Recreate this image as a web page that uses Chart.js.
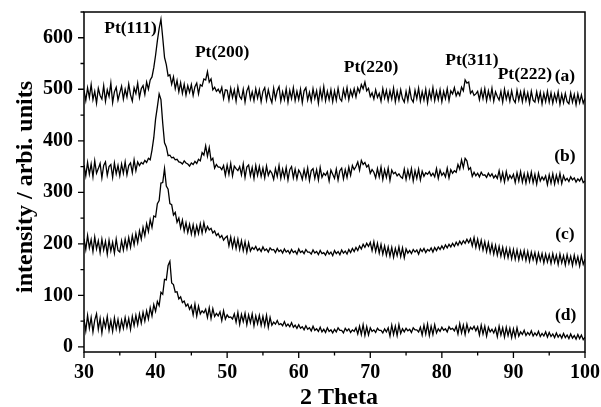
<!DOCTYPE html>
<html>
<head>
<meta charset="utf-8">
<script src="https://cdn.jsdelivr.net/npm/chart.js@4.4.1/dist/chart.umd.min.js"></script>
<style>
  body { margin: 0; background: #fff; }
  #wrap { width: 601px; height: 407px; }
</style>
</head>
<body>
<div id="wrap"><canvas id="chart-1" width="601" height="407"></canvas></div>
<script>
// 2 Theta from 30 to 100, one reading every 0.25 deg
const thetaStart = 30;
const thetaStep = 0.25;

const seriesA = [
  498,478,503,484,509,480,496,473,502,488,481,507,477,499,486,512,474,495,504,479,
  493,506,481,500,485,510,489,477,503,492,512,484,501,507,490,514,500,518,524,542,
  566,594,618,636,600,562,548,526,528,510,524,501,517,495,513,492,510,489,507,494,
  509,488,505,512,491,509,506,520,518,534,514,520,499,504,496,500,493,504,482,499,
  498,479,502,484,499,477,504,486,481,500,475,497,505,481,495,478,501,483,499,476,
  496,503,479,499,484,474,502,481,497,505,477,495,480,501,475,498,482,503,478,496,
  480,500,474,497,503,479,494,477,501,482,497,473,500,481,505,478,496,480,499,476,
  497,479,502,482,477,500,484,503,480,498,486,501,485,503,494,509,501,514,497,502,
  486,493,481,499,484,492,477,501,483,498,478,497,481,502,476,496,479,499,482,475,
  496,478,501,481,475,498,482,502,477,495,479,500,474,497,481,503,478,496,480,499,
  476,496,482,501,478,497,491,503,487,495,488,504,497,518,512,514,492,497,488,491,
  496,480,499,482,501,478,497,481,502,477,495,486,479,496,475,500,481,495,477,497,
  480,474,498,479,495,476,497,478,493,473,496,479,475,495,477,494,472,492,476,496,
  475,493,473,491,477,495,471,490,474,492,476,472,493,475,490,470,491,474,489,473,
  482
];
const seriesB = [
  353,332,358,335,355,330,361,337,346,356,328,352,359,333,350,354,329,357,336,352,
  332,355,337,359,334,352,357,338,363,342,359,352,358,355,362,358,366,363,382,406,
  442,466,491,480,434,396,388,371,372,367,368,363,364,359,358,355,361,357,355,351,
  357,354,360,356,364,361,377,372,390,370,387,362,366,347,354,349,349,344,352,333,
  353,335,356,332,351,346,342,350,334,355,329,349,353,332,348,327,352,333,350,331,
  347,328,351,333,342,337,325,346,331,352,327,345,329,348,324,344,350,328,345,326,
  343,337,325,344,328,347,323,342,346,327,344,324,348,329,337,333,340,322,343,335,
  327,345,324,342,347,326,344,329,349,333,352,344,350,359,343,362,354,358,349,353,
  337,344,339,328,346,330,349,325,344,329,347,323,343,336,339,332,336,330,327,345,
  325,343,328,346,322,342,327,345,324,341,331,338,335,340,332,337,330,346,327,343,
  333,338,330,347,328,344,337,342,339,354,345,363,348,366,361,344,348,331,339,332,
  337,330,339,333,334,329,337,331,336,328,333,327,342,323,338,320,340,324,333,327,
  335,319,338,322,340,320,336,318,337,321,339,319,335,316,337,322,330,324,332,315,
  334,318,336,316,333,319,337,317,332,323,327,321,330,324,328,320,326,322,329,319,
  322
];
const seriesC = [
  210,189,216,192,208,185,213,190,206,183,209,188,205,180,207,186,203,182,209,187,
  184,206,188,209,191,212,193,216,198,220,202,225,209,232,216,239,224,247,232,254,
  252,278,284,318,319,346,312,306,278,276,256,261,242,250,231,246,225,241,222,238,
  219,237,217,235,220,239,221,241,224,234,227,230,221,225,216,220,212,216,207,212,
  215,196,213,193,210,191,209,189,206,187,204,184,202,186,193,189,195,187,191,185,
  194,187,190,184,192,188,189,183,191,185,188,182,190,184,187,181,189,183,186,180,
  190,183,186,181,189,184,184,180,188,182,185,179,187,181,183,178,186,180,184,177,
  187,181,185,179,188,182,186,180,189,183,191,185,193,187,196,190,199,193,201,195,
  203,187,204,185,201,182,199,180,196,178,194,176,193,174,191,177,194,175,192,173,
  190,182,187,181,189,184,188,180,190,185,191,183,189,186,192,184,193,187,194,189,
  196,190,198,192,199,194,201,195,203,197,205,199,206,201,209,202,210,196,212,193,
  209,191,207,188,204,185,202,183,199,180,197,178,195,176,193,174,191,173,190,171,
  189,170,188,169,186,171,187,168,185,166,184,169,183,164,182,167,181,163,180,165,
  179,162,181,164,178,160,180,163,177,159,179,162,176,158,178,161,175,157,177,160,
  170
];
const seriesD = [
  54,31,61,36,57,29,52,64,34,55,27,53,38,59,32,51,30,56,35,53,
  32,52,36,57,38,55,34,59,41,61,43,64,46,67,50,70,54,76,60,82,
  69,88,80,106,102,131,130,158,166,124,121,106,107,93,97,86,89,79,83,73,
  80,62,83,60,79,64,70,66,73,57,76,55,74,59,65,60,68,51,70,54,
  62,57,58,54,64,48,67,44,63,49,65,43,62,47,64,41,60,45,61,42,
  59,41,61,38,57,42,48,44,51,43,45,41,49,40,44,39,47,38,42,36,
  43,36,39,33,41,34,37,31,40,32,35,30,38,29,34,28,37,30,33,27,
  34,29,37,32,32,27,36,31,35,28,33,30,37,25,40,24,43,22,39,23,
  37,30,33,28,36,32,32,27,35,29,37,21,42,24,40,22,43,26,35,29,
  36,31,34,28,37,33,33,29,38,23,42,25,44,22,40,24,43,27,35,30,
  38,32,35,29,39,34,36,31,40,25,45,27,42,24,44,29,38,34,40,31,
  39,23,42,25,40,21,38,29,34,27,36,20,40,23,37,19,38,22,36,18,
  35,19,37,21,29,24,32,22,28,23,31,21,27,22,30,20,26,21,29,19,
  28,20,25,18,27,19,24,17,26,18,23,16,25,17,22,15,24,16,23,14,
  19
];

const xTicks = [30, 40, 50, 60, 70, 80, 90, 100];
const yTicks = [0, 100, 200, 300, 400, 500, 600];

// peak / curve labels placed in data space
const peakLabels = [
  { text: 'Pt(111)', x: 36.5, y: 618 },
  { text: 'Pt(200)', x: 49.3, y: 571 },
  { text: 'Pt(220)', x: 70.1, y: 542 },
  { text: 'Pt(311)', x: 84.2, y: 556 },
  { text: 'Pt(222)', x: 91.6, y: 529 },
  { text: '(a)', x: 97.2, y: 525 },
  { text: '(b)', x: 97.2, y: 370 },
  { text: '(c)', x: 97.2, y: 218 },
  { text: '(d)', x: 97.3, y: 60 }
];

const serif = '"Liberation Serif", "Times New Roman", serif';

function toPoints(values) {
  return values.map((v, i) => ({ x: thetaStart + i * thetaStep, y: v }));
}

const frame = {
  id: 'frame',
  afterDraw(chart) {
    const ctx = chart.ctx;
    const a = chart.chartArea;
    const sx = chart.scales.x, sy = chart.scales.y;
    ctx.save();
    ctx.strokeStyle = '#000';
    ctx.lineWidth = 1.5;
    ctx.strokeRect(a.left, a.top, a.right - a.left, a.bottom - a.top);

    ctx.lineWidth = 1.3;
    ctx.beginPath();
    for (let v = 30; v <= 100; v += 5) {
      const px = sx.getPixelForValue(v);
      const len = v % 10 === 0 ? 6 : 3.5;
      ctx.moveTo(px, a.bottom);
      ctx.lineTo(px, a.bottom + len);
    }
    for (let v = 0; v <= 650; v += 50) {
      const py = sy.getPixelForValue(v);
      const len = v % 100 === 0 ? 6 : 3.5;
      ctx.moveTo(a.left, py);
      ctx.lineTo(a.left - len, py);
    }
    ctx.stroke();

    ctx.fillStyle = '#000';
    ctx.font = 'bold 17.5px ' + serif;
    ctx.textAlign = 'center';
    ctx.textBaseline = 'middle';
    peakLabels.forEach(l => {
      ctx.fillText(l.text, sx.getPixelForValue(l.x), sy.getPixelForValue(l.y));
    });

    ctx.font = 'bold 24px ' + serif;
    ctx.textBaseline = 'alphabetic';
    ctx.fillText('2 Theta', 339, 404);
    ctx.translate(32, 187);
    ctx.rotate(-Math.PI / 2);
    ctx.fillText('intensity / arbi. units', 0, 0);
    ctx.restore();
  }
};

function lineSet(values) {
  return {
    data: toPoints(values),
    borderColor: '#000',
    borderWidth: 1.3,
    pointRadius: 0,
    tension: 0,
    fill: false
  };
}

const ctx = document.getElementById('chart-1');
new Chart(ctx, {
  type: 'line',
  data: {
    datasets: [lineSet(seriesA), lineSet(seriesB), lineSet(seriesC), lineSet(seriesD)]
  },
  options: {
    responsive: false,
    animation: false,
    layout: { padding: { top: 12, right: 16, left: 0, bottom: 0 } },
    plugins: { legend: { display: false }, tooltip: { enabled: false } },
    scales: {
      x: {
        type: 'linear',
        min: 30,
        max: 100,
        grid: { display: false, drawTicks: false },
        border: { display: false },
        afterFit: s => { s.height = 55; s.paddingLeft = 0; s.paddingRight = 0; },
        afterBuildTicks: s => { s.ticks = xTicks.map(v => ({ value: v })); },
        ticks: {
          padding: 9,
          color: '#000',
          font: { family: serif, size: 20, weight: 'bold' },
          maxRotation: 0
        }
      },
      y: {
        type: 'linear',
        min: -10,
        max: 650,
        grid: { display: false, drawTicks: false },
        border: { display: false },
        afterFit: s => { s.width = 84; s.paddingTop = 0; s.paddingBottom = 0; },
        afterBuildTicks: s => { s.ticks = yTicks.map(v => ({ value: v })); },
        ticks: {
          padding: 11,
          color: '#000',
          font: { family: serif, size: 20, weight: 'bold' }
        }
      }
    }
  },
  plugins: [frame]
});
</script>
</body>
</html>
